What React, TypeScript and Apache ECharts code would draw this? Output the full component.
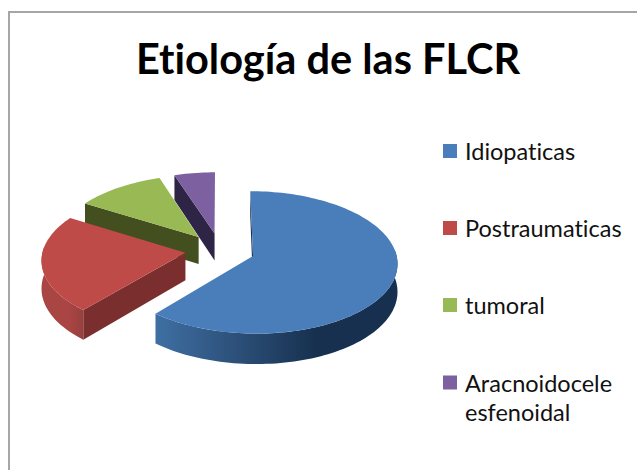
import React, { useEffect, useRef } from "react";
import * as echarts from "echarts";

const titleText = "Etiología de las FLCR";
const categories = ["Idiopaticas", "Postraumaticas", "tumoral", "Aracnoidocele\nesfenoidal"];
const values = [60, 22, 11, 5];
const topColors = ["#4A7EBB", "#BE4B48", "#98B954", "#7D60A0"];
const cutColors = ["#17304F", "#7A2F2E", "#434F1E", "#2E2445"];
const rimColors = [
  ["#3F6FA3", "#2C5079", "#17304F", "#17304F"],
  ["#A94543", "#A94543", "#A94543", "#96403E"],
  ["#434F1E", "#434F1E", "#434F1E", "#434F1E"],
  ["#2E2445", "#2E2445", "#2E2445", "#2E2445"],
];
const drawOrder = [3, 2, 1, 0];

const total = values.reduce((a, b) => a + b, 0);
const CX = 220, CY = 250, R = 142.5, TILT = 0.488, PERSP = 0.09, EXPLODE = 0.245, DEPTH = 27.5;

function project(u: number, v: number, drop: number): number[] {
  const w = 1 / (1 + PERSP * v);
  return [CX + R * u * w, CY - R * TILT * v * w + drop * DEPTH * w];
}

function renderSlice(index: number) {
  return (_params: any, api: any) => {
    const value = api.value(0);
    const before = values.slice(0, index).reduce((a, b) => a + b, 0);
    const a0 = (before / total) * Math.PI * 2;
    const a1 = a0 + (value / total) * Math.PI * 2;
    const mid = (a0 + a1) / 2;
    const eu = EXPLODE * Math.sin(mid);
    const ev = EXPLODE * Math.cos(mid);
    const rim = (a: number, drop: number) => project(eu + Math.sin(a), ev + Math.cos(a), drop);
    const arc = (from: number, to: number, drop: number) => {
      const n = Math.max(2, Math.ceil(Math.abs(to - from) / 0.03));
      const out: number[][] = [];
      for (let i = 0; i <= n; i++) out.push(rim(from + ((to - from) * i) / n, drop));
      return out;
    };
    const children: any[] = [];
    const front0 = Math.max(a0, Math.PI * 0.47);
    const front1 = Math.min(a1, Math.PI * 1.53);
    if (front1 > front0) {
      const stops = rimColors[index];
      children.push({
        type: "polygon",
        shape: { points: [...arc(front0, front1, 0), ...arc(front1, front0, 1)] },
        style: {
          fill: new echarts.graphic.LinearGradient(0, 0, 1, 0, stops.map((color, i) => ({ offset: i / (stops.length - 1), color }))),
        },
      });
    }
    children.push({
      type: "polygon",
      shape: { points: [project(eu, ev, 0), rim(a0, 0), rim(a0, 1), project(eu, ev, 1)] },
      style: { fill: cutColors[index] },
    });
    children.push({
      type: "polygon",
      shape: { points: [project(eu, ev, 0), ...arc(a0, a1, 0)] },
      style: { fill: topColors[index] },
    });
    return { type: "group", children };
  };
}

export default function App() {
  const ref = useRef<HTMLDivElement>(null);
  useEffect(() => {
    document.body.style.margin = "0";
    const chart = echarts.init(ref.current!, null, { renderer: "svg" });
    const font = "Lato, 'Noto Sans', sans-serif";
    const legendText = { fontFamily: font, fontSize: 23.5, color: "#111", lineHeight: 29, padding: [0, 0, 0, 3] };
    chart.setOption({
      animation: false,
      backgroundColor: "#fff",
      title: {
        text: titleText,
        left: 131,
        top: 32,
        textStyle: { fontFamily: font, fontWeight: "bold", fontSize: 41.5, color: "#000" },
      },
      legend: [
        {
          orient: "vertical",
          left: 438,
          top: 131.5,
          icon: "rect",
          itemWidth: 14,
          itemHeight: 14,
          itemGap: 48,
          selectedMode: false,
          data: categories.slice(0, 3),
          textStyle: legendText,
        },
        {
          orient: "vertical",
          left: 438,
          top: 363,
          icon: "path://M0 0H14V14H0Z M0 43L14 43",
          itemWidth: 14,
          itemHeight: 43,
          selectedMode: false,
          data: categories.slice(3),
          textStyle: legendText,
        },
      ],
      graphic: [
        {
          type: "polyline",
          shape: { points: [[9, 470], [9, 12], [637, 12]] },
          style: { stroke: "#A6A6A6", lineWidth: 2, fill: "none" },
        },
      ],
      series: categories.map((name, i) => ({
        type: "custom",
        name,
        coordinateSystem: "none",
        z: 2 + drawOrder.indexOf(i),
        itemStyle: { color: topColors[i] },
        data: [[values[i]]],
        renderItem: renderSlice(i),
      })),
    });
    return () => chart.dispose();
  }, []);
  return <div ref={ref} style={{ width: 637, height: 470, overflow: "hidden", fontVariantLigatures: "none" }} />;
}
